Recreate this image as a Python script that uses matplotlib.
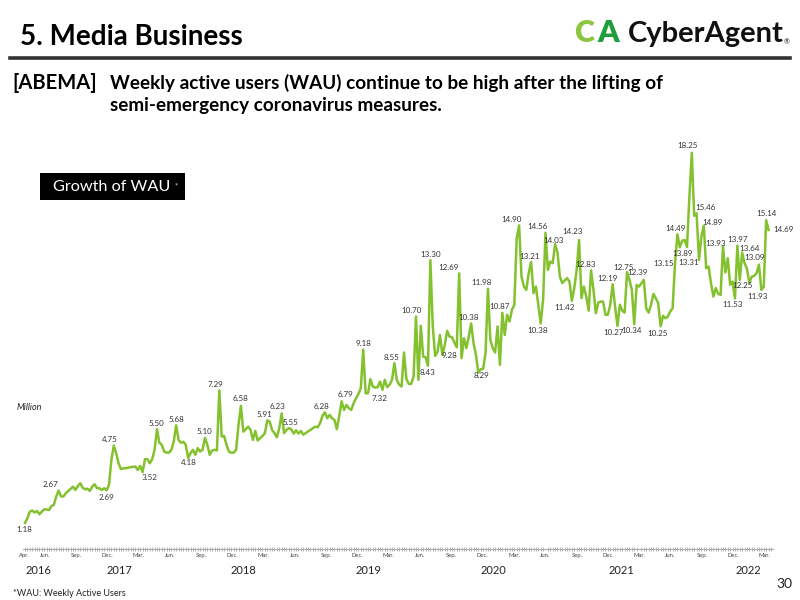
import datetime
import matplotlib
matplotlib.use('Agg')
import matplotlib.pyplot as plt
import matplotlib.dates as mdates
from matplotlib.patches import Rectangle
from matplotlib.lines import Line2D

plt.rcParams['font.family'] = ['Lato', 'DejaVu Sans']

# weekly WAU (million), week index counted from the first week of Apr 2016
weeks = [0, 1, 2, 3, 4, 5, 6, 7, 8, 10, 11, 12, 13, 14, 15, 16, 17, 19, 20, 21,
         22, 23, 24, 25, 26, 27, 28, 29, 30, 31, 32, 33, 34, 35, 36, 37, 38, 39, 40, 41,
         42, 43, 44, 46, 47, 48, 49, 50, 51, 52, 53, 54, 55, 56, 57, 58, 59, 60, 61, 62,
         63, 64, 65, 66, 67, 68, 69, 70, 71, 72, 73, 74, 75, 76, 77, 78, 79, 80, 81, 82,
         83, 84, 85, 86, 87, 88, 89, 90, 91, 92, 93, 94, 95, 96, 97, 98, 99, 100, 101, 102,
         103, 104, 105, 106, 107, 108, 109, 110, 111, 112, 113, 114, 115, 116, 117, 118, 119, 120, 121, 122,
         123, 124, 125, 126, 127, 128, 129, 130, 131, 132, 133, 134, 135, 136, 137, 138, 139, 140, 141, 142,
         143, 144, 145, 146, 147, 148, 149, 150, 151, 152, 153, 154, 155, 156, 157, 158, 159, 160, 161, 162,
         163, 164, 165, 166, 167, 168, 169, 170, 171, 172, 173, 174, 175, 176, 177, 178, 179, 180, 181, 182,
         183, 184, 185, 186, 187, 188, 189, 190, 191, 192, 193, 194, 195, 196, 197, 198, 199, 200, 201, 202,
         203, 204, 205, 206, 207, 208, 209, 210, 211, 212, 213, 214, 215, 216, 217, 218, 219, 220, 221, 222,
         223, 224, 225, 226, 227, 228, 229, 230, 231, 232, 233, 234, 235, 236, 237, 238, 239, 240, 241, 242,
         243, 244, 245, 246, 247, 248, 249, 250, 251, 252, 253, 254, 255, 256, 258, 259, 260, 261, 262, 263,
         264, 265, 266, 267, 268, 269, 270, 271, 272, 273, 274, 275, 276, 277, 278, 279, 280, 281, 282, 283,
         284, 285, 286, 287, 288, 289, 290, 291, 292, 293, 294, 295, 296, 297, 298, 299, 300, 301, 302, 303,
         304, 305, 306, 307, 308, 309, 310]
wau = [1.18, 1.40, 1.70, 1.75, 1.66, 1.73, 1.58, 1.70, 1.81, 1.78, 1.96, 2.01, 2.40, 2.67, 2.40, 2.40, 2.55, 2.75, 2.85, 2.70,
       2.88, 3.01, 2.81, 2.73, 2.76, 2.66, 2.85, 2.96, 2.78, 2.78, 2.70, 2.78, 2.69, 2.93, 4.09, 4.75, 4.39, 3.93, 3.66, 3.70,
       3.70, 3.73, 3.75, 3.78, 3.62, 3.81, 3.52, 4.12, 4.12, 3.93, 4.12, 4.55, 5.50, 4.88, 4.78, 4.47, 4.42, 4.42, 4.55, 4.93,
       5.68, 5.01, 4.88, 4.92, 4.78, 4.18, 4.40, 4.55, 4.32, 4.63, 4.47, 4.55, 5.10, 4.78, 4.32, 4.52, 4.55, 4.52, 7.29, 5.16,
       5.19, 4.78, 4.47, 4.42, 4.42, 4.55, 5.70, 6.58, 5.39, 5.50, 5.62, 5.47, 5.01, 5.42, 4.98, 5.09, 5.19, 5.32, 5.91, 5.85,
       5.47, 5.32, 5.13, 5.55, 6.23, 5.32, 5.47, 5.55, 5.50, 5.30, 5.45, 5.30, 5.42, 5.25, 5.32, 5.40, 5.47, 5.55, 5.62, 5.59,
       5.78, 6.12, 6.28, 6.01, 6.16, 6.01, 5.93, 5.50, 6.12, 6.79, 6.39, 6.62, 6.47, 6.39, 6.70, 6.93, 7.13, 7.40, 9.18, 7.16,
       7.16, 7.81, 7.47, 7.42, 7.44, 7.70, 7.32, 7.78, 7.44, 7.55, 7.78, 8.55, 7.78, 7.55, 7.47, 9.04, 7.81, 7.59, 7.59, 7.93,
       10.70, 7.78, 10.27, 8.85, 8.82, 8.43, 13.30, 10.24, 8.88, 9.08, 9.85, 8.93, 9.39, 10.04, 9.77, 9.75, 9.50, 9.28, 12.69, 8.78,
       9.70, 9.24, 9.77, 10.38, 9.47, 8.93, 8.11, 8.27, 8.29, 9.01, 11.98, 9.62, 9.24, 9.04, 10.24, 8.47, 10.87, 9.85, 10.78, 10.47,
       11.01, 11.24, 14.31, 14.90, 12.54, 12.08, 11.93, 12.70, 13.21, 11.78, 12.08, 11.24, 10.38, 11.47, 14.56, 12.85, 13.23, 13.16, 14.03, 13.65,
       12.54, 12.24, 12.36, 12.47, 12.31, 11.42, 12.01, 12.85, 14.23, 11.55, 12.08, 11.62, 10.97, 12.83, 11.93, 10.85, 11.34, 11.39, 11.39, 10.78,
       10.78, 11.24, 12.19, 11.16, 10.27, 11.24, 10.97, 10.88, 12.75, 12.39, 11.93, 10.34, 12.16, 12.08, 12.39, 11.08, 10.88, 11.24, 11.74, 11.54,
       11.31, 10.25, 10.73, 10.62, 10.70, 10.93, 11.08, 13.15, 14.49, 13.89, 14.20, 14.23, 13.90, 16.23, 18.25, 15.34, 15.46, 13.31, 14.39, 14.89,
       12.93, 13.00, 12.24, 11.62, 12.01, 11.74, 11.70, 13.93, 12.73, 13.39, 12.16, 12.31, 11.53, 13.97, 12.39, 13.64, 13.16, 12.90, 12.25, 12.54,
       12.57, 12.70, 13.09, 11.93, 12.08, 15.14, 14.69]

# labelled weeks and where the label sits (pixel offset from the point)
label_weeks = [0, 14, 37, 34, 49, 55, 63, 68, 75, 81, 90, 101, 107, 110, 125, 132, 141, 149, 154,
               163, 168, 169, 181, 180, 186, 191, 193, 199, 206, 211, 215, 217, 221, 231, 228, 236,
               245, 247, 251, 254, 258, 265, 271, 272, 273, 278, 280, 281, 283, 291, 296, 297, 299,
               302, 306, 307, 309, 310]
label_dx = [-1, -8, -4, 0, 7, -1, 0, 1, 0, -4, 0, -3, -4, 2, -3, 4, 0, -3, -3,
            -4, 0, 0, -11, -7, -3, -2, -6, -3, -8, -2, -3, -8, -2, -6, -7, -5,
            -5, -4, -4, -3, -6, -3, -11, -2, 3, -4, 9, -10, 9, -7, -2, 0, 7,
            -7, -4, -4, 0, 15]
label_dy = [-7, 6, 6, -7, -5, 6, 6, -5, 6, 6, 7, 6, 7, 6, 6, 7, 6, -9, 6,
            6, -7, 6, 6, -8, 6, -7, 6, 6, 6, 6, -7, 6, 4, 8, -7, 6,
            6, -7, 5, -6, 7, -7, 0, 6, -6, 7, 6, -3, 3, 3, -6, 6, 4,
            -3, 7, -7, 7, 0]

start = datetime.date(2016, 4, 4)
dates = [start + datetime.timedelta(weeks=w) for w in weeks]

fig = plt.figure(figsize=(8, 6), dpi=100)
W, H = 800.0, 600.0

ax = fig.add_axes([23 / W, 1 - 548.5 / H, 750 / W, 408.5 / H])
ax.plot(dates, wau, color='#84c12e', lw=1.8, solid_joinstyle='round')
ax.set_ylim(0, 18.84)
ax.set_xlim(datetime.date(2016, 3, 29), datetime.date(2022, 3, 27))

for w, dx, dy in zip(label_weeks, label_dx, label_dy):
    v = wau[weeks.index(w)]
    ax.annotate('%.2f' % v, (start + datetime.timedelta(weeks=w), v),
                xytext=(dx, dy), textcoords='offset pixels',
                ha='center', va='center', fontsize=5.8, color='#333333')

# x axis: month ticks + weekly minor ticks
ticks = [datetime.date(2016, 4, 1)]
for y in range(2016, 2023):
    for m in (3, 6, 9, 12):
        d = datetime.date(y, m, 1)
        if datetime.date(2016, 4, 1) < d <= datetime.date(2022, 3, 1):
            ticks.append(d)
ax.set_xticks(ticks)
ax.xaxis.set_major_formatter(mdates.DateFormatter('%b.'))
ax.xaxis.set_minor_locator(mdates.WeekdayLocator(byweekday=mdates.MO))
ax.tick_params(axis='x', which='major', length=0, labelsize=4.2, labelcolor='#444444', pad=3)
ax.tick_params(axis='x', which='minor', length=3, direction='inout', color='#aaaaaa', width=0.6)
ax.set_yticks([])
for s in ('top', 'right', 'left'):
    ax.spines[s].set_visible(False)
ax.spines['bottom'].set_color('#aaaaaa')
ax.spines['bottom'].set_linewidth(0.8)

years = ['2016', '2017', '2018', '2019', '2020', '2021', '2022']
year_pos = [datetime.date(2016, 5, 12), datetime.date(2017, 1, 5), datetime.date(2018, 1, 1),
            datetime.date(2019, 1, 1), datetime.date(2020, 1, 1), datetime.date(2021, 1, 8),
            datetime.date(2022, 1, 14)]
for yr, d in zip(years, year_pos):
    ax.text(d, -0.055, yr, transform=ax.get_xaxis_transform(), ha='center', va='center',
            fontsize=8, color='#222222')

# header
fig.text(20 / W, 1 - 37 / H, '5. Media Business', fontsize=20, fontweight='bold', va='center')
fig.add_artist(Line2D([10 / W, 790 / W], [1 - 58 / H, 1 - 58 / H], color='#333333', lw=2.6))
fig.text(574 / W, 1 - 33 / H, 'C', fontsize=22, fontweight='heavy', color='#8cc63f', va='center')
fig.text(597 / W, 1 - 33 / H, 'A', fontsize=22, fontweight='heavy', color='#1e9e3a', va='center')
fig.text(628 / W, 1 - 34 / H, 'CyberAgent', fontsize=21, fontweight='bold', color='#111111', va='center')
fig.text(784 / W, 1 - 42 / H, '®', fontsize=5, color='#111111', va='center')

fig.text(12 / W, 1 - 83 / H, '[ABEMA]', fontsize=14.5, fontweight='bold', va='center')
fig.text(110 / W, 1 - 83 / H, 'Weekly active users (WAU) continue to be high after the lifting of',
         fontsize=13.6, fontweight='bold', va='center')
fig.text(110 / W, 1 - 105 / H, 'semi-emergency coronavirus measures.',
         fontsize=13.6, fontweight='bold', va='center')

fig.add_artist(Rectangle((40 / W, 1 - 200 / H), 145 / W, 27 / H, transform=fig.transFigure,
                         facecolor='black', edgecolor='none'))
fig.text(53 / W, 1 - 187 / H, 'Growth of WAU', fontsize=11.7, color='white', va='center')
fig.text(175 / W, 1 - 186 / H, '*', fontsize=5, color='white', va='center')

fig.text(17 / W, 1 - 408 / H, 'Million', fontsize=6.5, style='italic', color='#222222', va='center')
fig.text(13 / W, 1 - 593 / H, '*WAU: Weekly Active Users', fontsize=6.5, color='#222222', va='center')
fig.text(792 / W, 1 - 584 / H, '30', fontsize=10, color='#222222', va='center', ha='right')

fig.savefig('out.png', dpi=100)
